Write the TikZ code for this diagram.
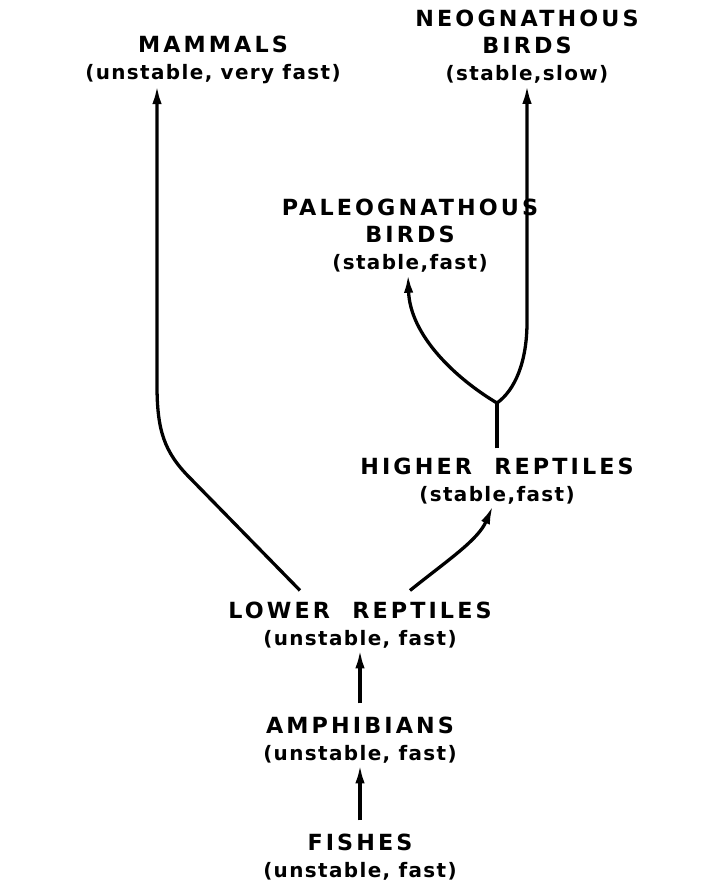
\documentclass[tikz,border=0pt]{standalone}
\usepackage{fontspec}
\setmainfont{DejaVu Sans}
\newfontfamily\capsfont{DejaVu Sans}[LetterSpace=14]
\newfontfamily\notefont{DejaVu Sans}[LetterSpace=7]
\usetikzlibrary{arrows.meta,positioning,calc}

\newcommand{\grp}[1]{{\capsfont\bfseries\fontsize{19}{23}\selectfont #1}}
\newcommand{\rate}[1]{{\notefont\bfseries\fontsize{17}{23}\selectfont #1}}

\tikzset{
    taxon/.style={align=center, inner sep=1pt, font=\fontsize{17}{23}\selectfont},
    evo/.style={line width=2.8pt, -{Latex[length=16pt,width=8pt]}},
    stem/.style={line width=2.8pt}
}

\begin{document}
\begin{tikzpicture}[x=0.03cm, y=-0.03cm]
    \useasboundingbox (0,0) rectangle (709,893);

    % Groups
    \node[taxon] (mammals) at (213,60) {\grp{MAMMALS}\\\rate{(unstable, very fast)}};
    \node[taxon] (neo) at (527,47) {\grp{NEOGNATHOUS}\\\grp{BIRDS}\\\rate{(stable,slow)}};
    \node[taxon] (paleo) at (410,236) {\grp{PALEOGNATHOUS}\\\grp{BIRDS}\\\rate{(stable,fast)}};
    \node[taxon] (higher) at (497,481) {\grp{HIGHER\quad REPTILES}\\\rate{(stable,fast)}};
    \node[taxon] (lower) at (360,625) {\grp{LOWER\quad REPTILES}\\\rate{(unstable, fast)}};
    \node[taxon] (amph) at (360,740) {\grp{AMPHIBIANS}\\\rate{(unstable, fast)}};
    \node[taxon] (fish) at (360,857) {\grp{FISHES}\\\rate{(unstable, fast)}};

    % Branching point above higher reptiles
    \coordinate (fork) at (497,403);

    % Straight line of descent
    \draw[evo] ($(fish.north)+(0,-12)$) -- (amph.south);
    \draw[evo] ($(amph.north)+(0,-12)$) -- (lower.south);

    % Reptile radiation
    \draw[evo] ($(lower.north)+(-60,-10)$) -- (190,478)
        .. controls (164,452) and (157,430) .. (157,385)
        -- ($(mammals.south)+(-56,0)$);
    \draw[evo] ($(lower.north)+(50,-10)$)
        .. controls (448,560) and (478,540) .. ($(higher.south)+(-4,0)$);

    % Birds
    \draw[stem] ($(higher.north)+(0,-8)$) -- (fork);
    \draw[evo] (fork) .. controls (455,378) and (410,335) .. ($(paleo.south)+(-2,0)$);
    \draw[evo] (fork) .. controls (515,390) and (527,362) .. (527,322)
        -- (neo.south);
\end{tikzpicture}
\end{document}
